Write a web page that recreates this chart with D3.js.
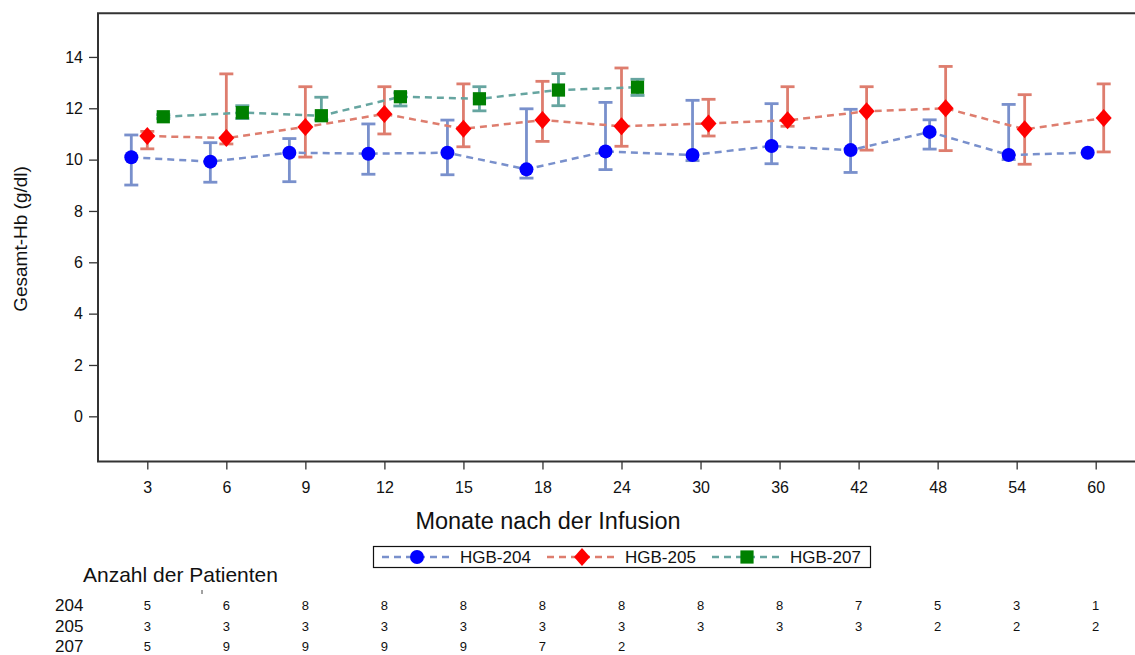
<!DOCTYPE html>
<meta charset="utf-8">
<style>
    body { margin: 0; background: #fff; }
    svg { display: block; font-family: 'Liberation Sans', Arial, sans-serif; }
</style>
<svg width="1135" height="655"></svg>
<script src="https://d3js.org/d3.v7.min.js"></script>
<script>

    // months after infusion (category axis)
    const months = [3, 6, 9, 12, 15, 18, 24, 30, 36, 42, 48, 54, 60];

    const hgb204Mean = [10.09, 9.92, 10.27, 10.23, 10.27, 9.62, 10.32, 10.18, 10.53, 10.37, 11.08, 10.18, 10.27];
    const hgb204Low  = [9.01, 9.12, 9.14, 9.43, 9.41, 9.28, 9.61, 9.96, 9.84, 9.50, 10.41, 10.00, null];
    const hgb204High = [10.96, 10.66, 10.82, 11.39, 11.54, 11.98, 12.23, 12.31, 12.18, 11.96, 11.55, 12.15, null];

    const hgb205Mean = [10.92, 10.84, 11.27, 11.78, 11.20, 11.54, 11.30, 11.41, 11.53, 11.88, 12.00, 11.18, 11.62];
    const hgb205Low  = [10.42, 10.61, 10.10, 11.00, 10.50, 10.71, 10.52, 10.92, 11.30, 10.37, 10.35, 9.82, 10.30];
    const hgb205High = [11.10, 13.34, 12.84, 12.84, 12.95, 13.05, 13.57, 12.35, 12.84, 12.84, 13.63, 12.53, 12.95];

    const hgb207Mean = [11.67, 11.83, 11.71, 12.45, 12.37, 12.71, 12.82];
    const hgb207Low  = [11.60, 11.60, 11.55, 12.09, 11.90, 12.10, 12.50];
    const hgb207High = [11.75, 12.10, 12.43, 12.60, 12.84, 13.35, 13.13];

    // number of patients per study and visit
    const n204 = [5, 6, 8, 8, 8, 8, 8, 8, 8, 7, 5, 3, 1];
    const n205 = [3, 3, 3, 3, 3, 3, 3, 3, 3, 3, 2, 2, 2];
    const n207 = [5, 9, 9, 9, 9, 7, 2];

    const yTicks = [0, 2, 4, 6, 8, 10, 12, 14];

    var svg = d3.select("svg");

    const plotLeft = 98, plotTop = 13.3, plotBottom = 461.5, plotRight = 1137;

    var x = d3.scaleLinear().domain([0, months.length - 1]).range([147.3, 1095.7]);
    var y = d3.scaleLinear().domain([-1.76, 15.7]).range([plotBottom, plotTop]);

    const series = [
        { name: "HGB-204", id: "204", mean: hgb204Mean, low: hgb204Low, high: hgb204High, n: n204,
          line: "#7990cc", marker: "#0000ff", shape: "circle" },
        { name: "HGB-205", id: "205", mean: hgb205Mean, low: hgb205Low, high: hgb205High, n: n205,
          line: "#de7d6e", marker: "#ff0000", shape: "diamond" },
        { name: "HGB-207", id: "207", mean: hgb207Mean, low: hgb207Low, high: hgb207High, n: n207,
          line: "#66a5a0", marker: "#008000", shape: "square" }
    ];

    // cluster offsets: groups present at a visit are spread around the tick
    const clusterGap = 16;
    series.forEach(function (s) { s.pts = []; });
    months.forEach(function (m, i) {
        const present = series.filter(function (s) { return s.mean[i] != null; });
        present.forEach(function (s, j) {
            const off = (j - (present.length - 1) / 2) * clusterGap;
            s.pts.push({ i: i, px: x(i) + off, mean: s.mean[i], low: s.low[i], high: s.high[i] });
        });
    });

    // axes
    var xAxis = svg.append("g")
        .attr("transform", "translate(0," + plotBottom + ")")
        .call(d3.axisBottom(x).tickValues(d3.range(months.length))
            .tickFormat(function (i) { return months[i]; })
            .tickSize(8).tickPadding(12).tickSizeOuter(0));
    xAxis.select(".domain").remove();
    xAxis.selectAll("line").attr("stroke", "#333").attr("stroke-width", 1.3);
    xAxis.selectAll("text").style("font-size", "16px").attr("fill", "#111").attr("font-family", null);

    var yAxis = svg.append("g")
        .attr("transform", "translate(" + plotLeft + ",0)")
        .call(d3.axisLeft(y).tickValues(yTicks).tickSize(9).tickPadding(6).tickSizeOuter(0));
    yAxis.select(".domain").remove();
    yAxis.selectAll("line").attr("stroke", "#333").attr("stroke-width", 1.3);
    yAxis.selectAll("text").style("font-size", "16px").attr("fill", "#111").attr("font-family", null);

    // frame (right side runs past the picture edge)
    svg.append("path")
        .attr("d", "M" + plotRight + "," + plotTop + "H" + plotLeft + "V" + plotBottom + "H" + plotRight)
        .attr("fill", "none").attr("stroke", "#333").attr("stroke-width", 2);

    // error bars
    const capW = 7;
    series.forEach(function (s) {
        var g = svg.append("g").attr("stroke", s.line).attr("stroke-width", 2.8).attr("fill", "none");
        s.pts.filter(function (p) { return p.low != null; }).forEach(function (p) {
            g.append("line").attr("x1", p.px).attr("x2", p.px).attr("y1", y(p.low)).attr("y2", y(p.high));
            g.append("line").attr("x1", p.px - capW).attr("x2", p.px + capW).attr("y1", y(p.low)).attr("y2", y(p.low));
            g.append("line").attr("x1", p.px - capW).attr("x2", p.px + capW).attr("y1", y(p.high)).attr("y2", y(p.high));
        });
    });

    // dashed mean lines
    var line = d3.line().x(function (p) { return p.px; }).y(function (p) { return y(p.mean); });
    series.forEach(function (s) {
        svg.append("path").datum(s.pts)
            .attr("d", line)
            .attr("fill", "none")
            .attr("stroke", s.line)
            .attr("stroke-width", 2.5)
            .attr("stroke-dasharray", "7,5");
    });

    function drawMarker(g, s, cx, cy) {
        if (s.shape === "circle") {
            g.append("circle").attr("cx", cx).attr("cy", cy).attr("r", 7).attr("fill", s.marker);
        } else if (s.shape === "diamond") {
            g.append("path").attr("d", "M" + cx + "," + (cy - 9) + "L" + (cx + 8) + "," + cy +
                "L" + cx + "," + (cy + 9) + "L" + (cx - 8) + "," + cy + "Z").attr("fill", s.marker);
        } else {
            g.append("rect").attr("x", cx - 6.6).attr("y", cy - 6.6).attr("width", 13.2).attr("height", 13.2)
                .attr("fill", s.marker);
        }
    }

    series.forEach(function (s) {
        var g = svg.append("g");
        s.pts.forEach(function (p) { drawMarker(g, s, p.px, y(p.mean)); });
    });

    // axis titles
    svg.append("text")
        .attr("transform", "translate(27,239) rotate(-90)")
        .attr("text-anchor", "middle")
        .style("font-size", "19px").attr("fill", "#111")
        .text("Gesamt-Hb (g/dl)");

    svg.append("text")
        .attr("x", 548).attr("y", 529)
        .attr("text-anchor", "middle")
        .style("font-size", "23.5px").attr("fill", "#111")
        .text("Monate nach der Infusion");

    // legend
    var legend = svg.append("g");
    legend.append("rect")
        .attr("x", 373.5).attr("y", 546.5).attr("width", 497).attr("height", 21)
        .attr("fill", "#fff").attr("stroke", "#111").attr("stroke-width", 1.2);
    series.forEach(function (s, k) {
        const mx = 417 + k * 165, my = 557;
        legend.append("line")
            .attr("x1", mx - 35).attr("x2", mx + 33).attr("y1", my).attr("y2", my)
            .attr("stroke", s.line).attr("stroke-width", 2.5).attr("stroke-dasharray", "7,5");
        drawMarker(legend, s, mx, my);
        legend.append("text")
            .attr("x", mx + 43).attr("y", my + 6)
            .style("font-size", "17px").attr("fill", "#111")
            .text(s.name);
    });

    // patients at risk table
    svg.append("text")
        .attr("x", 83).attr("y", 582)
        .style("font-size", "21px").attr("fill", "#111")
        .text("Anzahl der Patienten");
    svg.append("line")
        .attr("x1", 202).attr("x2", 202).attr("y1", 590).attr("y2", 594)
        .attr("stroke", "#444").attr("stroke-width", 1);

    series.forEach(function (s, k) {
        const rowY = 611 + k * 20.5;
        svg.append("text")
            .attr("x", 55).attr("y", rowY)
            .style("font-size", "17px").attr("fill", "#111")
            .text(s.id);
        svg.append("g").selectAll("text")
            .data(s.n)
            .enter().append("text")
            .attr("x", function (d, i) { return x(i); })
            .attr("y", rowY - 1)
            .attr("text-anchor", "middle")
            .style("font-size", "13px").attr("fill", "#111")
            .text(function (d) { return d; });
    });

</script>
